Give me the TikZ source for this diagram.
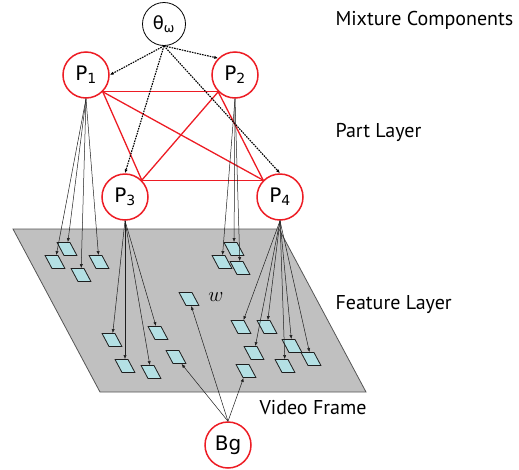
\documentclass[tikz,border=0pt]{standalone}
\usepackage{fontspec}
\setmainfont{PT Sans}
\newfontfamily\nodefont{DejaVu Sans}
\usetikzlibrary{arrows.meta,shapes.geometric}
\definecolor{partred}{RGB}{237,28,36}
\definecolor{framegray}{RGB}{192,192,192}
\definecolor{frameedge}{RGB}{85,85,85}
\definecolor{patchfill}{RGB}{180,224,228}
\definecolor{ink}{RGB}{30,30,30}

\begin{document}
\begin{tikzpicture}[x=1pt, y=-1pt,
    part/.style={circle, draw=partred, line width=1.5pt, minimum size=46pt, inner sep=0pt,
                 font=\nodefont\fontsize{20}{22}\selectfont},
    mix/.style={circle, draw=black, line width=0.8pt, minimum size=43pt, inner sep=0pt,
                font=\nodefont\fontsize{18}{20}\selectfont},
    patch/.style={trapezium, trapezium left angle=118, trapezium right angle=62,
                  draw=ink, line width=0.8pt, fill=patchfill, inner xsep=3pt, inner ysep=6.5pt},
    layer/.style={font=\fontsize{20}{23}\selectfont},
    feat/.style={->, ink, line width=0.5pt},
    mixarrow/.style={->, dash pattern=on 1.6pt off 1pt, line width=1.1pt},
    link/.style={partred, line width=1.3pt},
    >={Latex[length=4pt,width=3.2pt]}]
  \useasboundingbox (0,0) rectangle (519,469);

  % the video frame seen in perspective
  \fill[framegray, draw=frameedge, line width=0.8pt] (13,229) -- (279,229) -- (366,392) -- (100,392) -- cycle;

  % mixture node, parts and background
  \node[mix]  (theta) at (164,24)  {θ\textsubscript{ω}};
  \node[part] (p1)    at (86,75)   {P\textsubscript{1}};
  \node[part] (p2)    at (235,75)  {P\textsubscript{2}};
  \node[part] (p3)    at (125,197) {P\textsubscript{3}};
  \node[part] (p4)    at (280,197) {P\textsubscript{4}};
  \node[part] (bg)    at (228,445) {Bg};

  % feature patches
  \node[patch] (fa) at (67,249)  {};
  \node[patch] (fb) at (55,262)  {};
  \node[patch] (fc) at (99,262)  {};
  \node[patch] (fd) at (81,275)  {};
  \node[patch] (fe) at (234,249) {};
  \node[patch] (ff) at (222,262) {};
  \node[patch] (fg) at (240,268) {};
  \node[patch] (fh) at (112,340) {};
  \node[patch] (fi) at (158,333) {};
  \node[patch] (fj) at (125,366) {};
  \node[patch] (fk) at (151,372) {};
  \node[patch] (fl) at (189,299) {};
  \node[patch] (fm) at (176,357) {};
  \node[patch] (fn) at (246,371) {};
  \node[patch] (fo) at (241,327) {};
  \node[patch] (fq) at (267,327) {};
  \node[patch] (fr) at (254,353) {};
  \node[patch] (fs) at (292,346) {};
  \node[patch] (ft) at (311,359) {};
  \node[patch] (fu) at (285,366) {};
  \node[font=\fontsize{22}{24}\selectfont] (w) at (216,297) {$w$};

  % layer captions
  \node[layer, anchor=west] (mixlab)  at (332,20)  {Mixture Components};
  \node[layer, anchor=west] (partlab) at (332,132) {Part Layer};
  \node[layer, anchor=west] (featlab) at (332,305) {Feature Layer};
  \node[layer, anchor=east] (framelab) at (370,408) {Video Frame};

  % fully connected part layer
  \draw[link] (p1.south east) -- (p2.south west);
  \draw[link] (p1.south east) -- (p3.north east);
  \draw[link] (p1.south east) -- (p4.north west);
  \draw[link] (p2.south west) -- (p3.north east);
  \draw[link] (p2.south west) -- (p4.north west);
  \draw[link] (p3.north east) -- (p4.north west);

  % mixture selects the parts
  \draw[mixarrow] (theta.south) -- (p1.east);
  \draw[mixarrow] (theta.south) -- (p2.north west);
  \draw[mixarrow] (theta.south) -- (p3.north);
  \draw[mixarrow] (theta.south) -- (p4.north);

  % each part emits its features
  \foreach \f in {fa,fb,fc,fd} \draw[feat] (p1.south) -- (\f);
  \foreach \f in {fe,ff,fg} \draw[feat] (p2.south) -- (\f);
  \foreach \f in {fh,fi,fj,fk} \draw[feat] (p3.south) -- (\f);
  \foreach \f in {fo,fq,fr,fs,ft,fu} \draw[feat] (p4.south) -- (\f);
  \foreach \f in {fl,fm,fn} \draw[feat] (bg.north) -- (\f);
\end{tikzpicture}
\end{document}
